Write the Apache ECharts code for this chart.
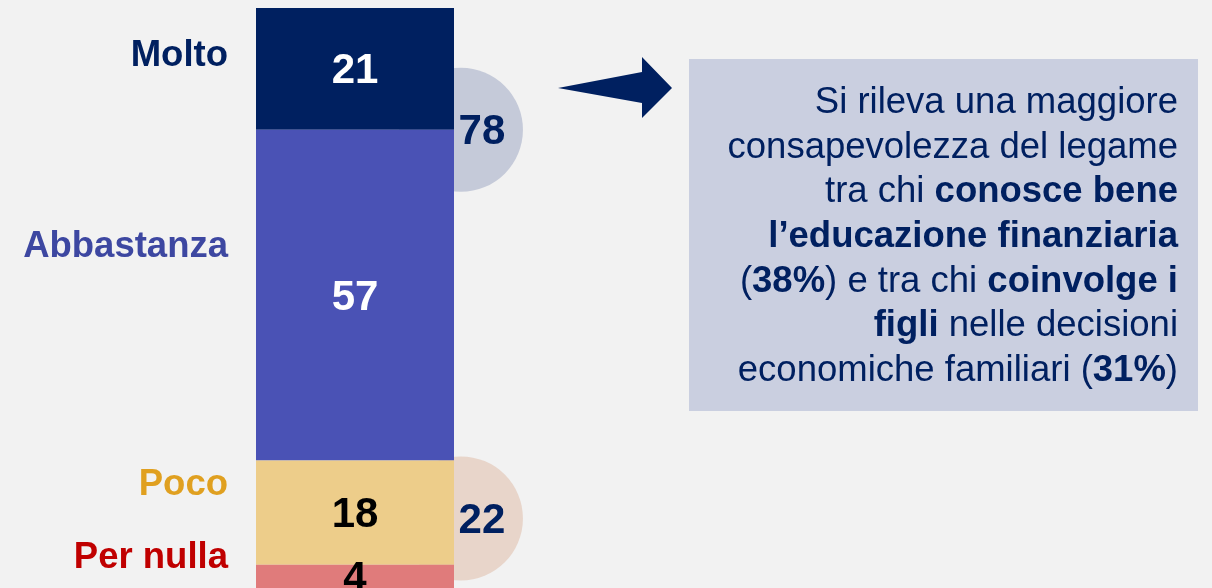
<!DOCTYPE html>
<html>
<head>
<meta charset="utf-8">
<script src="https://cdn.jsdelivr.net/npm/echarts@6/dist/echarts.min.js"></script>
<style>
  html, body { margin: 0; padding: 0; background: #f2f2f2; }
  #chart { width: 1212px; height: 588px; }
</style>
</head>
<body>
<div id="chart"></div>
<script>
// dati
const categories = ['Molto', 'Abbastanza', 'Poco', 'Per nulla']
const values = [21, 57, 18, 4]
const barColors = ['#002060', '#4a52b5', '#edcd8a', '#e07b7b']
const valueColors = ['#ffffff', '#ffffff', '#000000', '#000000']
const labelColors = ['#002060', '#3d47a1', '#e0a020', '#c00000']
// totali: Molto+Abbastanza, Poco+Per nulla
const totals = [78, 22]
const totalPos = [21, 88]
const totalColors = ['#c5cad9', '#e8d5ca']

const font = '"Liberation Sans", Arial, sans-serif'
const navy = '#002060'

const chart = echarts.init(document.getElementById('chart'))

const barSeries = categories.map((name, i) => ({
  name,
  type: 'bar',
  stack: 'tot',
  barWidth: '100%',
  z: 3,
  itemStyle: { color: barColors[i] },
  label: {
    show: true,
    position: 'inside',
    offset: [0, 3],
    color: valueColors[i],
    fontFamily: font,
    fontWeight: 'bold',
    fontSize: 42
  },
  data: [values[i]]
}))

// etichette delle categorie (a sinistra della barra)
const labelY = [56, 247, 485, 558]
const labelGraphics = categories.map((name, i) => ({
  type: 'text',
  x: 228,
  y: labelY[i],
  style: {
    text: name,
    align: 'right',
    verticalAlign: 'middle',
    fill: labelColors[i],
    fontFamily: font,
    fontWeight: 'bold',
    fontSize: 36.5
  }
}))

const boxText = [
  '{n|Si rileva una maggiore}',
  '{n|consapevolezza del legame}',
  '{n|tra chi }{b|conosce bene}',
  '{b|l\u2019educazione finanziaria}',
  '{n|(}{b|38%}{n|) e tra chi }{b|coinvolge i}',
  '{b|figli}{n| nelle decisioni}',
  '{n|economiche familiari (}{b|31%}{n|)}'
].join('\n')

const option = {
  backgroundColor: '#f2f2f2',
  animation: false,
  grid: { left: 256, top: 8, width: 198, height: 580 },
  xAxis: [
    { type: 'category', data: ['Totale'], show: false },
    { type: 'value', min: 0, max: 1, show: false }
  ],
  yAxis: { type: 'value', min: 0, max: 100, inverse: true, show: false },
  series: [
    ...barSeries,
    {
      type: 'scatter',
      xAxisIndex: 1,
      z: 1,
      clip: false,
      symbolSize: 124,
      label: {
        show: true,
        position: 'inside',
        offset: [21, 3],
        color: navy,
        fontFamily: font,
        fontWeight: 'bold',
        fontSize: 42,
        formatter: (p) => p.value[2]
      },
      data: totals.map((t, i) => ({
        value: [1.035, totalPos[i], t],
        itemStyle: { color: totalColors[i], opacity: 1 }
      }))
    }
  ],
  graphic: [
    ...labelGraphics,
    {
      type: 'polygon',
      shape: { points: [[558, 88], [642, 72], [642, 57], [672, 88], [642, 118], [642, 103]] },
      style: { fill: navy }
    },
    {
      type: 'rect',
      shape: { x: 689, y: 59, width: 509, height: 352 },
      style: { fill: '#cacfe0' }
    },
    {
      type: 'text',
      x: 1178,
      y: 237,
      style: {
        text: boxText,
        align: 'right',
        verticalAlign: 'middle',
        lineHeight: 44.7,
        rich: {
          n: { fill: navy, fontFamily: font, fontSize: 36.5, lineHeight: 44.7, align: 'right' },
          b: { fill: navy, fontFamily: font, fontSize: 36.5, fontWeight: 'bold', lineHeight: 44.7, align: 'right' }
        }
      }
    }
  ]
}

chart.setOption(option)
</script>
</body>
</html>
